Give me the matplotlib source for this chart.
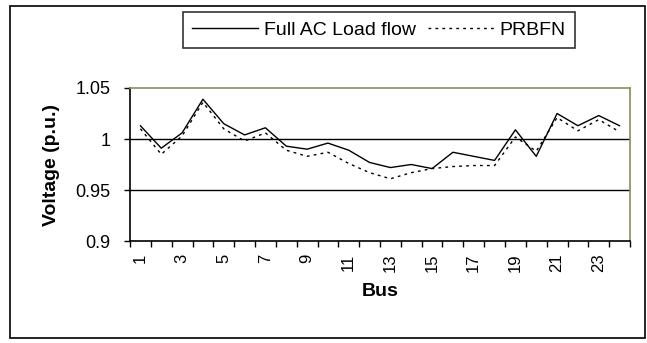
import numpy as np
import matplotlib.pyplot as plt
from matplotlib.patches import Rectangle

plt.rcParams['font.family'] = ['Liberation Sans', 'DejaVu Sans']

# Bus voltages
bus = np.arange(1, 25)
full_ac = [1.013, 0.991, 1.006, 1.039, 1.015, 1.004, 1.011, 0.993,
           0.990, 0.996, 0.989, 0.977, 0.972, 0.975, 0.971, 0.987,
           0.983, 0.979, 1.009, 0.983, 1.025, 1.013, 1.023, 1.013]
prbfn = [1.010, 0.985, 1.003, 1.036, 1.010, 0.998, 1.006, 0.989,
         0.983, 0.987, 0.976, 0.967, 0.961, 0.967, 0.971, 0.973,
         0.974, 0.974, 1.002, 0.988, 1.021, 1.008, 1.019, 1.007]
yticks = [0.9, 0.95, 1.0, 1.05]
ytick_labels = ['0.9', '0.95', '1', '1.05']

fig = plt.figure(figsize=(6.47, 3.43), dpi=100)
ax = fig.add_axes([130/647, 102/343, 500/647, 153/343])

# outer chart border
fig.patches.append(Rectangle((10/647, 5/343), 635/647, 332/343,
                             transform=fig.transFigure, fill=False,
                             edgecolor='black', lw=1.2))

ax.axhline(1.0, color='black', lw=1.0, zorder=1)
ax.axhline(0.95, color='black', lw=1.0, zorder=1)

ax.plot(bus, full_ac, color='black', lw=1.0, label='Full AC Load flow')
ax.plot(bus, prbfn, color='black', lw=1.0, ls=(0, (2, 3)), label='PRBFN')

ax.set_xlim(0.5, 24.5)
ax.set_ylim(0.9, 1.05)
ax.set_yticks(yticks)
ax.set_yticklabels(ytick_labels)
ax.set_xticks(bus[::2])
ax.set_xticklabels([str(b) for b in bus[::2]], rotation=90)
ax.set_xticks(np.arange(0.5, 25, 1), minor=True)
ax.tick_params(axis='x', which='major', length=0, pad=9, labelsize=12)
ax.tick_params(axis='x', which='minor', length=4, width=1, direction='out')
ax.tick_params(axis='y', length=4, width=1, direction='out', labelsize=13,
               pad=10)

for s in ['left', 'bottom']:
    ax.spines[s].set_color('black')
    ax.spines[s].set_linewidth(1.2)
for s in ['top', 'right']:
    ax.spines[s].set_color('#8c8c5a')
    ax.spines[s].set_linewidth(1.2)

ax.set_xlabel('Bus', fontsize=14, fontweight='bold', labelpad=8)
ax.set_ylabel('Voltage (p.u.)', fontsize=14, fontweight='bold', labelpad=11)

leg = fig.legend(loc='center', bbox_to_anchor=(379/647, 1 - 30/343), ncol=2,
                 frameon=True, fancybox=False, fontsize=14,
                 handlelength=3.4, columnspacing=0.6, handletextpad=0.3,
                 borderpad=0.45, borderaxespad=0)
leg.get_frame().set_edgecolor('black')
leg.get_frame().set_linewidth(1.2)

fig.savefig('out.png', dpi=100)
